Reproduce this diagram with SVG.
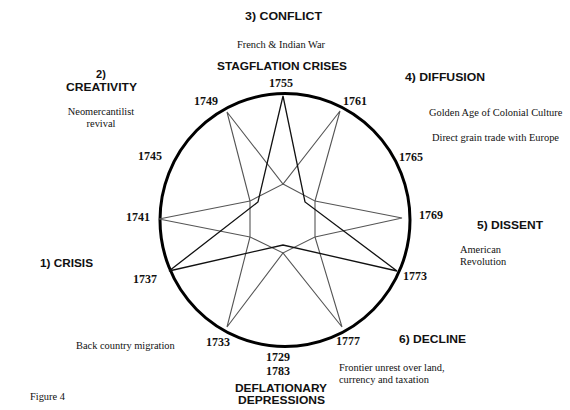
<svg xmlns="http://www.w3.org/2000/svg" width="570" height="410" viewBox="0 0 570 410">
<style>
.yr{font-family:"Liberation Serif","Times New Roman",serif;font-weight:bold;font-size:12px;fill:#111;text-anchor:middle}
.note{font-family:"Liberation Serif","Times New Roman",serif;font-size:10.4px;fill:#111}
.hd{font-family:"Liberation Sans",Arial,sans-serif;font-weight:bold;font-size:11px;fill:#111}
.g{fill:none;stroke:#555;stroke-width:1.1}
.d{fill:none;stroke:#111;stroke-width:1.3;stroke-linejoin:miter}
</style>
<rect width="570" height="410" fill="#fff"/>
<g id="circle"><ellipse cx="285" cy="220" rx="125" ry="126.5" fill="none" stroke="#000" stroke-width="3"/></g>
<g id="connectors">
<polyline class="g" points="250,201 227,112 283,184 340,111 315,201"/>
<polyline class="g" points="315,201 402,218 315,237"/>
<polyline class="g" points="315,237 342,327 283,253 227,327 250,237"/>
<polyline class="g" points="250,237 159,219 250,201"/>
<polygon class="g" points="283,184 315,201 315,237 283,253 250,237 250,201"/>
<polygon class="d" points="283,96 305,202 397,271 283,245 169,271 258,202"/>
</g>
<g id="years">
<text class="yr" x="281" y="87">1755</text>
<text class="yr" x="206" y="105">1749</text>
<text class="yr" x="355" y="105">1761</text>
<text class="yr" x="150" y="160">1745</text>
<text class="yr" x="411" y="161">1765</text>
<text class="yr" x="138" y="221">1741</text>
<text class="yr" x="431" y="219">1769</text>
<text class="yr" x="145" y="283">1737</text>
<text class="yr" x="415" y="280">1773</text>
<text class="yr" x="218" y="346">1733</text>
<text class="yr" x="348" y="345">1777</text>
<text class="yr" x="278" y="361">1729</text>
<text class="yr" x="278" y="375">1783</text>
</g>
<g id="phase3"><text class="hd" x="245" y="20" textLength="77" lengthAdjust="spacingAndGlyphs">3) CONFLICT</text>
<text class="note" x="281" y="48" text-anchor="middle">French &amp; Indian War</text></g>
<g id="stagflation"><text class="hd" x="217" y="69.5" textLength="130" lengthAdjust="spacingAndGlyphs">STAGFLATION CRISES</text></g>
<g id="phase4"><text class="hd" x="405" y="81" textLength="80" lengthAdjust="spacingAndGlyphs">4) DIFFUSION</text>
<text class="note" x="429" y="115.5">Golden Age of Colonial Culture</text>
<text class="note" x="432" y="141">Direct grain trade with Europe</text></g>
<g id="phase2"><text class="hd" x="101" y="78" text-anchor="middle">2)</text>
<text class="hd" x="66" y="91" textLength="71" lengthAdjust="spacingAndGlyphs">CREATIVITY</text>
<text class="note" x="101" y="115" text-anchor="middle">Neomercantilist</text>
<text class="note" x="101" y="127" text-anchor="middle">revival</text></g>
<g id="phase1"><text class="hd" x="40" y="267" textLength="53" lengthAdjust="spacingAndGlyphs">1) CRISIS</text>
<text class="note" x="76" y="349">Back country migration</text></g>
<g id="phase5"><text class="hd" x="477" y="229" textLength="66" lengthAdjust="spacingAndGlyphs">5) DISSENT</text>
<text class="note" x="460" y="253">American</text>
<text class="note" x="460" y="265">Revolution</text></g>
<g id="phase6"><text class="hd" x="399" y="343" textLength="67" lengthAdjust="spacingAndGlyphs">6) DECLINE</text>
<text class="note" x="339" y="371">Frontier unrest over land,</text>
<text class="note" x="339" y="383">currency and taxation</text></g>
<g id="deflation"><text class="hd" x="235" y="392" textLength="92" lengthAdjust="spacingAndGlyphs">DEFLATIONARY</text>
<text class="hd" x="238" y="404" textLength="87" lengthAdjust="spacingAndGlyphs">DEPRESSIONS</text></g>
<g id="caption"><text class="note" x="30" y="400">Figure 4</text></g>
</svg>
